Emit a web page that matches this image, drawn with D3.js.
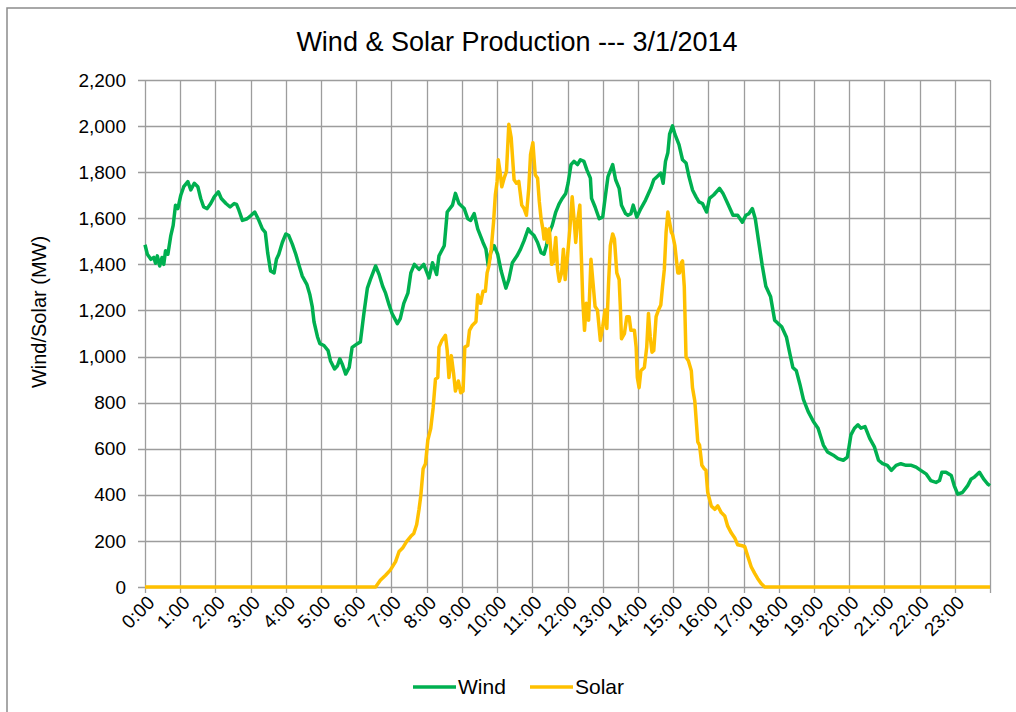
<!DOCTYPE html>
<html>
<head>
<meta charset="utf-8">
<script src="https://cdn.jsdelivr.net/npm/d3@7/dist/d3.min.js"></script>
<style>
    body { margin: 0; background: #fff; }
    text { font-family: "Liberation Sans", Arial, sans-serif; fill: #000; }
</style>
</head>
<body>
<svg id="chart" width="1016" height="712"></svg>
<script>
    'use strict';

    var TITLE = 'Wind & Solar Production --- 3/1/2014';
    var Y_LABEL = 'Wind/Solar (MW)';
    var SERIES_NAMES = ['Wind', 'Solar'];
    var HOUR_LABELS = d3.range(0, 24).map(function (h) { return h + ':00'; });
    var Y_TICKS = d3.range(0, 2201, 200);

    // wind (time, MW)
    var windTimes = [
        '0:00', '0:04', '0:10', '0:15', '0:18', '0:21', '0:25', '0:29', '0:32', '0:35', '0:39', '0:44', '0:48', '0:52', '0:56',
        '1:01', '1:06', '1:13', '1:18', '1:24', '1:30', '1:35', '1:40', '1:46', '1:52', '1:58',
        '2:05', '2:10', '2:18', '2:25', '2:32', '2:36', '2:40', '2:46', '2:54',
        '3:01', '3:07', '3:14', '3:20', '3:25', '3:29', '3:34', '3:40', '3:44', '3:48', '3:54',
        '4:00', '4:05', '4:11', '4:17', '4:22', '4:28', '4:36', '4:41', '4:45', '4:48', '4:54', '4:58',
        '5:05', '5:12', '5:16', '5:23', '5:28', '5:32', '5:36', '5:42', '5:48', '5:53',
        '6:02', '6:07', '6:13', '6:19', '6:24', '6:33', '6:39', '6:45', '6:50', '6:56',
        '7:01', '7:10', '7:15', '7:21', '7:28', '7:33', '7:39', '7:47', '7:55',
        '8:04', '8:10', '8:17', '8:21', '8:30', '8:35', '8:44', '8:49', '8:55',
        '9:04', '9:10', '9:15', '9:21', '9:27', '9:36', '9:41', '9:45', '9:49', '9:55',
        '10:01', '10:07', '10:15', '10:20', '10:26', '10:34', '10:40', '10:46', '10:53', '10:57',
        '11:03', '11:09', '11:15', '11:20', '11:24', '11:29', '11:34', '11:40', '11:46', '11:51', '11:57',
        '12:01', '12:06', '12:11', '12:17', '12:22', '12:28', '12:33', '12:39', '12:41', '12:47', '12:54',
        '13:00', '13:04', '13:09', '13:17', '13:22', '13:28', '13:32', '13:39', '13:43', '13:48', '13:52', '13:58',
        '14:05', '14:13', '14:22', '14:27', '14:33', '14:39', '14:43', '14:47', '14:51', '14:54', '14:59',
        '15:03', '15:10', '15:16', '15:22', '15:27', '15:33', '15:39', '15:44', '15:50', '15:57',
        '16:02', '16:09', '16:19', '16:25', '16:33', '16:42', '16:50', '16:58',
        '17:04', '17:09', '17:15', '17:20', '17:26', '17:32', '17:38', '17:46', '17:53', '17:59',
        '18:05', '18:13', '18:19', '18:24', '18:30', '18:36', '18:42', '18:50', '18:59',
        '19:07', '19:16', '19:23', '19:33', '19:41', '19:50', '19:57',
        '20:03', '20:09', '20:15', '20:20', '20:27', '20:35', '20:43', '20:50', '20:57',
        '21:05', '21:12', '21:20', '21:28', '21:37', '21:46', '21:54',
        '22:02', '22:11', '22:19', '22:28', '22:34', '22:38', '22:45', '22:54', '22:59',
        '23:05', '23:13', '23:22', '23:28', '23:33', '23:42', '23:49', '23:56', '24:00'
    ];
    var windMW = [
        1485, 1444, 1422, 1430, 1405, 1437, 1393, 1430, 1400, 1459, 1444, 1525, 1569, 1657, 1642,
        1700, 1737, 1759, 1723, 1752, 1737, 1686, 1649, 1642, 1664, 1693,
        1715, 1686, 1664, 1649, 1664, 1660, 1635, 1591, 1598,
        1613, 1627, 1591, 1554, 1539, 1451, 1371, 1363, 1422, 1444, 1495,
        1532, 1525, 1488, 1444, 1400, 1349, 1312, 1268, 1217, 1151, 1085, 1056,
        1048, 1026, 982, 946, 960, 990, 968, 924, 953, 1040,
        1056, 1063, 1187, 1297, 1334, 1393, 1356, 1305, 1275, 1224,
        1187, 1143, 1165, 1231, 1275, 1363, 1400, 1378, 1400,
        1341, 1407, 1356, 1437, 1481, 1627, 1657, 1708, 1664,
        1642, 1598, 1591, 1620, 1554, 1495, 1466, 1393, 1451, 1481,
        1444, 1371, 1297, 1334, 1407, 1437, 1466, 1503, 1554, 1539,
        1525, 1495, 1451, 1444, 1481, 1539, 1569, 1627, 1664, 1686, 1708,
        1752, 1833, 1847, 1833, 1854, 1847, 1810, 1774, 1686, 1649, 1598,
        1605, 1686, 1781, 1833, 1767, 1730, 1657, 1620, 1613, 1620, 1657, 1605,
        1642, 1679, 1730, 1767, 1781, 1796, 1752, 1847, 1884, 1965, 2001,
        1965, 1920, 1854, 1840, 1781, 1723, 1693, 1671, 1664, 1627,
        1686, 1701, 1730, 1708, 1664, 1613, 1613, 1583,
        1613, 1620, 1642, 1598, 1495, 1393, 1305, 1261, 1158, 1143,
        1129, 1085, 1012, 953, 938, 880, 814, 762, 718,
        689, 616, 586, 572, 557, 550, 564,
        660, 689, 704, 689, 696, 645, 608, 550, 535,
        528, 506, 528, 535, 528, 528, 520,
        506, 491, 462, 454, 462, 498, 498, 484, 440,
        403, 410, 440, 469, 476, 498, 469, 447, 440
    ];

    // solar (time, MW)
    var solarTimes = [
        '0:00', '6:33', '6:41', '6:50', '6:58',
        '7:07', '7:13', '7:19', '7:26', '7:33', '7:38', '7:43', '7:47', '7:50', '7:54', '7:58',
        '8:02', '8:07', '8:11', '8:15', '8:19', '8:21', '8:26', '8:32', '8:35', '8:38', '8:42', '8:46', '8:49', '8:54', '8:58',
        '9:02', '9:05', '9:10', '9:13', '9:18', '9:24', '9:27', '9:32', '9:36', '9:40', '9:43', '9:46', '9:50', '9:54', '9:57',
        '10:00', '10:02', '10:05', '10:08', '10:12', '10:16', '10:20', '10:24', '10:29', '10:33', '10:37', '10:42', '10:46', '10:50', '10:54', '10:57',
        '11:01', '11:05', '11:09', '11:12', '11:15', '11:18', '11:20', '11:23', '11:26', '11:29', '11:33', '11:36', '11:40', '11:43', '11:46', '11:50', '11:53', '11:56',
        '12:00', '12:04', '12:08', '12:12', '12:14', '12:17', '12:21', '12:23', '12:26', '12:29', '12:32', '12:36', '12:40', '12:43', '12:47', '12:51', '12:56',
        '13:00', '13:04', '13:07', '13:10', '13:13', '13:17', '13:20', '13:24', '13:28', '13:30', '13:32', '13:37', '13:41', '13:45', '13:48', '13:54', '13:57', '13:59',
        '14:02', '14:05', '14:11', '14:15', '14:18', '14:21', '14:24', '14:27', '14:31', '14:35', '14:39', '14:42', '14:45', '14:48', '14:51', '14:54', '14:57', '14:59',
        '15:03', '15:08', '15:11', '15:14', '15:16', '15:19', '15:22', '15:26', '15:31', '15:33', '15:37', '15:42', '15:45', '15:49', '15:53', '15:56', '15:59',
        '16:05', '16:11', '16:16', '16:22', '16:28', '16:33', '16:39', '16:45', '16:50', '16:56',
        '17:02', '17:07', '17:13', '17:19', '17:24', '17:30', '17:36', '24:00'
    ];
    var solarMW = [
        0, 0, 29, 51, 73,
        110, 154, 169, 198, 220, 232, 271, 337, 396, 513, 535,
        638, 689, 777, 902, 909, 1041, 1070, 1092, 1026, 909, 1004, 924, 850, 894, 843,
        850, 1041, 1048, 1114, 1136, 1151, 1268, 1231, 1283, 1283, 1363, 1393, 1466, 1583, 1701,
        1759, 1854, 1803, 1737, 1774, 1803, 2008, 1950, 1767, 1752, 1760, 1657, 1642, 1613, 1730, 1876,
        1928, 1789, 1774, 1671, 1598, 1554, 1510, 1554, 1495, 1554, 1400, 1410, 1517, 1378, 1327, 1363, 1466, 1334,
        1437, 1554, 1693, 1569, 1495, 1583, 1657, 1481, 1246, 1114, 1231, 1158, 1422, 1334, 1217, 1202, 1070,
        1129, 1202, 1122, 1319, 1481, 1532, 1510, 1363, 1334, 1217, 1077, 1099, 1173, 1173, 1114, 1114, 1041, 909,
        865, 938, 953, 1041, 1187, 1085, 1019, 1026, 1173, 1202, 1224, 1305, 1378, 1539, 1627, 1583, 1539, 1530,
        1481, 1363, 1363, 1407, 1415, 1305, 997, 982, 938, 865, 806, 630, 616, 528, 513, 506, 410,
        352, 337, 352, 323, 308, 264, 235, 213, 183, 180,
        176, 135, 88, 59, 37, 15, 0, 0
    ];

    var WIND_COLOR = '#00B050';
    var SOLAR_COLOR = '#FFC000';
    var GRID_COLOR = '#9d9d9d';

    var plot = { left: 145, top: 80, width: 845, height: 507 };

    var svg = d3.select('#chart');

    var x = d3.scaleLinear().domain([0, 24 * 60]).range([plot.left, plot.left + plot.width]);
    var y = d3.scaleLinear().domain([0, 2200]).range([plot.top + plot.height, plot.top]);

    function toMinutes(t) {
        var parts = t.split(':');
        return (+parts[0]) * 60 + (+parts[1]);
    }

    function zipSeries(times, values) {
        return times.map(function (t, i) {
            return { m: toMinutes(t), v: values[i] };
        });
    }

    function renderFrame() {
        svg.append('rect')
            .attr('x', 7).attr('y', 8)
            .attr('width', 1030).attr('height', 720)
            .attr('fill', 'none')
            .attr('stroke', '#8c8c8c')
            .attr('stroke-width', 1.5);

        svg.append('text')
            .attr('x', 517).attr('y', 51)
            .attr('text-anchor', 'middle')
            .attr('font-size', 27)
            .text(TITLE);

        svg.append('text')
            .attr('transform', 'translate(46,312) rotate(-90)')
            .attr('text-anchor', 'middle')
            .attr('font-size', 20)
            .text(Y_LABEL);
    }

    function renderGrid() {
        var grid = svg.append('g');
        var hours = d3.range(0, 25);

        //horizontal lines, with the little tick on the left
        grid.selectAll('line.h').data(Y_TICKS).enter()
            .append('line')
            .attr('class', 'h')
            .attr('x1', plot.left - 7)
            .attr('x2', plot.left + plot.width)
            .attr('y1', function (d) { return Math.round(y(d)) + 0.5; })
            .attr('y2', function (d) { return Math.round(y(d)) + 0.5; })
            .attr('stroke', GRID_COLOR)
            .attr('stroke-width', 1.3);

        //vertical lines, one per hour, running past the axis as ticks
        grid.selectAll('line.v').data(hours).enter()
            .append('line')
            .attr('class', 'v')
            .attr('x1', function (d) { return Math.round(x(d * 60)) + 0.5; })
            .attr('x2', function (d) { return Math.round(x(d * 60)) + 0.5; })
            .attr('y1', plot.top)
            .attr('y2', plot.top + plot.height + 6)
            .attr('stroke', GRID_COLOR)
            .attr('stroke-width', 1.3);
    }

    function renderAxes() {
        var yAxis = svg.append('g');
        yAxis.selectAll('text').data(Y_TICKS).enter()
            .append('text')
            .attr('x', plot.left - 19)
            .attr('y', function (d) { return y(d); })
            .attr('dy', '0.35em')
            .attr('text-anchor', 'end')
            .attr('font-size', 19)
            .text(d3.format(','));

        var xAxis = svg.append('g');
        xAxis.selectAll('text').data(HOUR_LABELS).enter()
            .append('text')
            .attr('transform', function (d, i) {
                return 'translate(' + (x(i * 60) + 6) + ',' + (plot.top + plot.height + 12) + ') rotate(-45)';
            })
            .attr('text-anchor', 'end')
            .attr('dy', '0.35em')
            .attr('font-size', 19)
            .text(function (d) { return d; });
    }

    function renderLines() {
        var line = d3.line()
            .x(function (d) { return x(d.m); })
            .y(function (d) { return y(d.v); });
        var linesGroup = svg.append('g');

        linesGroup.append('path')
            .datum(zipSeries(windTimes, windMW))
            .attr('d', line)
            .attr('fill', 'none')
            .attr('stroke', WIND_COLOR)
            .attr('stroke-width', 3.5)
            .attr('stroke-linejoin', 'round');

        linesGroup.append('path')
            .datum(zipSeries(solarTimes, solarMW))
            .attr('d', line)
            .attr('fill', 'none')
            .attr('stroke', SOLAR_COLOR)
            .attr('stroke-width', 3.5)
            .attr('stroke-linejoin', 'round');
    }

    function renderLegend() {
        var items = [
            { name: SERIES_NAMES[0], color: WIND_COLOR, x: 413 },
            { name: SERIES_NAMES[1], color: SOLAR_COLOR, x: 530 }
        ];
        var legend = svg.append('g').selectAll('g').data(items).enter().append('g');
        legend.append('line')
            .attr('x1', function (d) { return d.x; })
            .attr('x2', function (d) { return d.x + 43; })
            .attr('y1', 687).attr('y2', 687)
            .attr('stroke', function (d) { return d.color; })
            .attr('stroke-width', 3.5);
        legend.append('text')
            .attr('x', function (d) { return d.x + 45; })
            .attr('y', 687)
            .attr('dy', '0.35em')
            .attr('font-size', 21)
            .text(function (d) { return d.name; });
    }

    renderFrame();
    renderGrid();
    renderAxes();
    renderLines();
    renderLegend();
</script>
</body>
</html>
